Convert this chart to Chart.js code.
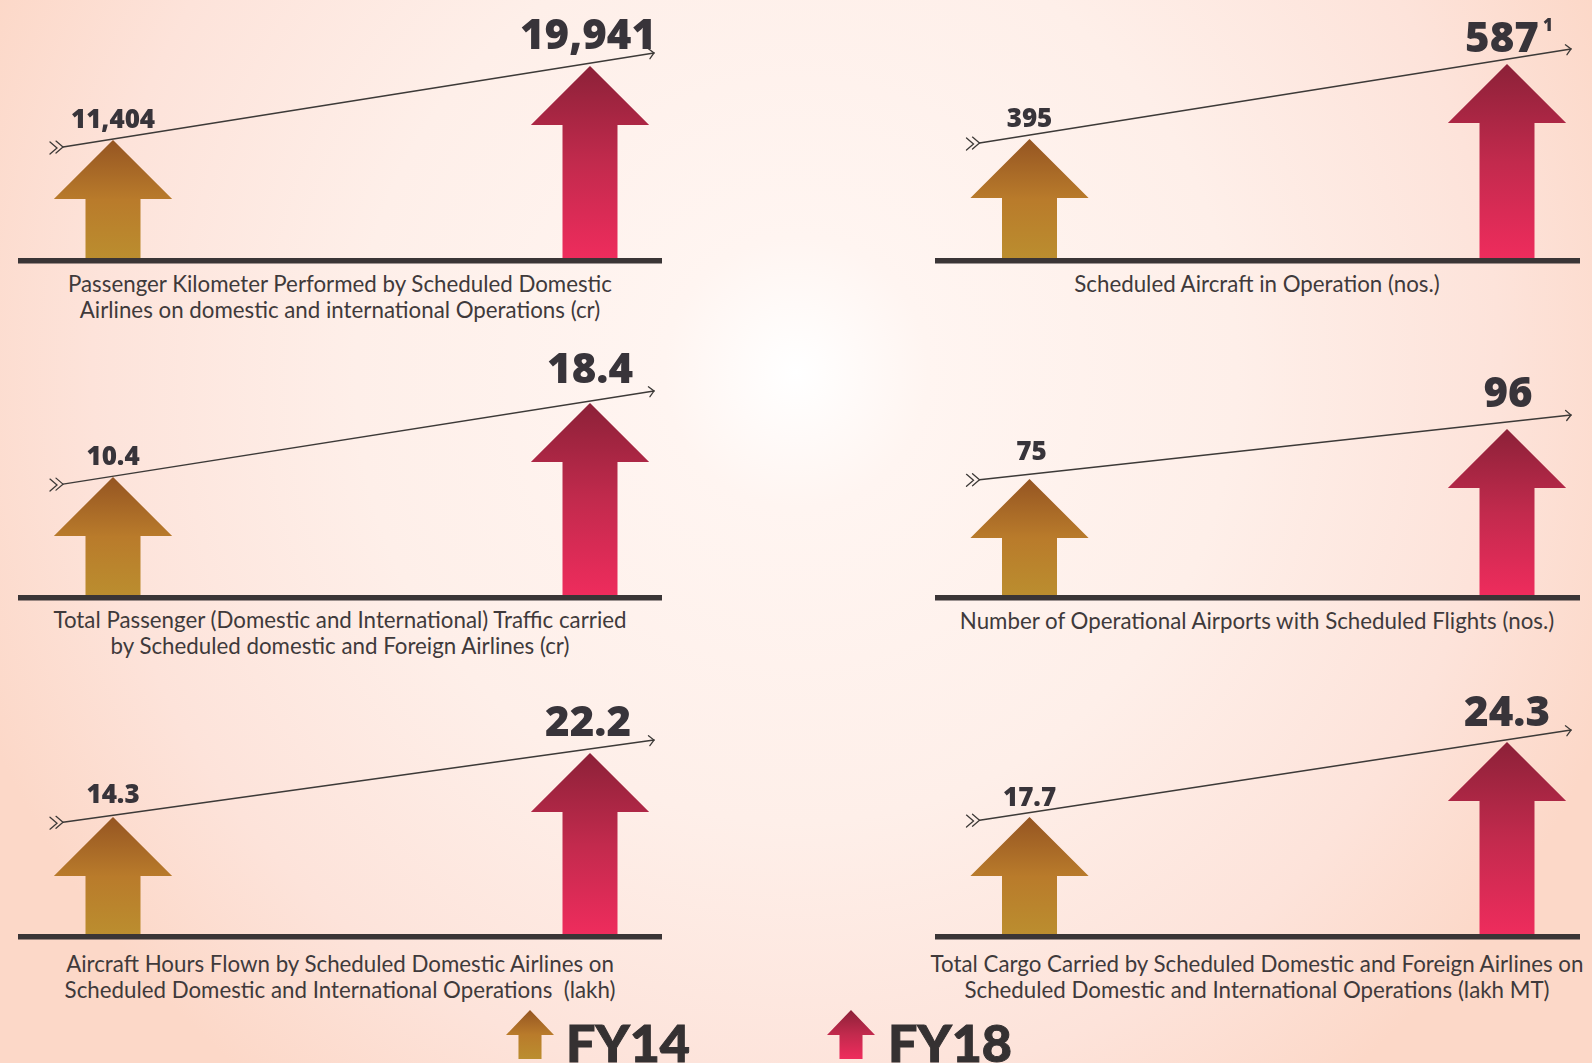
<!DOCTYPE html>
<html><head><meta charset="utf-8">
<script src="https://cdn.jsdelivr.net/npm/chart.js@4"></script>
<style>
html,body{margin:0;padding:0;width:1592px;height:1063px;overflow:hidden}
body{position:relative;background:radial-gradient(ellipse 880px 900px at 50% 35%,#ffffff 0%,#fff5f1 15%,#feefe9 50%,#fde3da 80%,#fcd8c8 100%);font-family:Lato,sans-serif;color:#3a3536}
canvas{position:absolute}
.cap{position:absolute;width:680px;text-align:center;font:400 22.3px/26.4px Lato,sans-serif;color:#3f3a3b;white-space:pre}
.lg{position:absolute;font:900 52px/52px Lato,sans-serif;color:#353132;-webkit-text-stroke:1px #353132}
.ar{position:absolute;width:48px;height:49px;clip-path:polygon(50% 0,100% 51%,74% 51%,74% 100%,26% 100%,26% 51%,0 51%)}
</style></head><body>
<script>
const categories = ["FY14", "FY18"];
const panelTitles = [
  ["Passenger Kilometer Performed by Scheduled Domestic", "Airlines on domestic and international Operations (cr)"],
  ["Scheduled Aircraft in Operation (nos.)"],
  ["Total Passenger (Domestic and International) Traffic carried", "by Scheduled domestic and Foreign Airlines (cr)"],
  ["Number of Operational Airports with Scheduled Flights (nos.)"],
  ["Aircraft Hours Flown by Scheduled Domestic Airlines on", "Scheduled Domestic and International Operations  (lakh)"],
  ["Total Cargo Carried by Scheduled Domestic and Foreign Airlines on", "Scheduled Domestic and International Operations (lakh MT)"]
];
const fy14Values = [11404, 395, 10.4, 75, 14.3, 17.7];
const fy18Values = [19941, 587, 18.4, 96, 22.2, 24.3];
const footnotes = ["", "1", "", "", "", ""];
const axisMin = [-2439, 85.2, -2.57, 25.44, -0.39, 7.23];
const axisMax = [20633, 597.2, 19.05, 109.44, 24.3, 24.83];

// layout, separate from the data
const panelLeft = [0, 920, 0, 920, 0, 920];
const baselineY = [260, 260, 597, 597, 936, 936];
const trendStartGap = [9, 6, 9, 2, 7, 5];
const trendEndGap = [13, 15, 12, 14, 13, 12];
const smallLabelGap = [19, 19, 19, 26, 21, 18];
const bigLabelGap = [29, 24, 32, 34, 29, 28];
const bigLabelShift = [-2, -5, 0, 1, -2, 0];
const smallLabelShift = [0, 0, 0, 2, 0, 0];
const captionY = [271, 271, 607, 608, 951, 951];
const INK = "#38343a";

const colorsFY14 = ["#955522", "#b97b2b", "#bb8e2f"];
const colorsFY18 = ["#8c2138", "#c22a4d", "#ef2c5d"];
const seriesColors = [colorsFY14, colorsFY18];

function arrowPlugin(i) {
  return {
    id: "arrows" + i,
    beforeDatasetDraw(chart, args) {
      const ctx = chart.ctx, meta = args.meta, area = chart.chartArea;
      meta.data.forEach((b, n) => {
        const stops = seriesColors[n];
        const w = b.width / 2, headW = w * 2.15, headH = 59, top = b.y, bot = area.bottom;
        const g = ctx.createLinearGradient(0, top, 0, bot);
        g.addColorStop(0, stops[0]); g.addColorStop(0.5, stops[1]); g.addColorStop(1, stops[2]);
        ctx.save(); ctx.fillStyle = g; ctx.beginPath();
        ctx.moveTo(b.x, top);
        ctx.lineTo(b.x + headW, top + headH); ctx.lineTo(b.x + w, top + headH);
        ctx.lineTo(b.x + w, bot); ctx.lineTo(b.x - w, bot); ctx.lineTo(b.x - w, top + headH);
        ctx.lineTo(b.x - headW, top + headH); ctx.closePath(); ctx.fill(); ctx.restore();
      });
      return false;
    },
    afterDraw(chart) {
      const ctx = chart.ctx, area = chart.chartArea;
      const p1 = chart.getDatasetMeta(0).data[0], p2 = chart.getDatasetMeta(0).data[1];
      ctx.save();
      ctx.fillStyle = "#3a3536";
      const bx0 = panelLeft[i] === 0 ? 18 : 15, bx1 = panelLeft[i] === 0 ? 662 : 660;
      ctx.fillRect(bx0, area.bottom - 2, bx1 - bx0, 5.5);
      // trend line
      const x0 = p1.x - 62, y0 = p1.y + trendStartGap[i], x1 = p2.x + 64, y1 = p2.y - trendEndGap[i];
      const a = Math.atan2(y1 - y0, x1 - x0), slope = (y1 - y0) / (x1 - x0);
      const lx0 = x0 + 12, ly0 = y0 + 12 * slope;
      ctx.strokeStyle = "#3d3a38"; ctx.lineWidth = 1.5; ctx.lineCap = "round";
      ctx.beginPath(); ctx.moveTo(lx0, ly0); ctx.lineTo(x1, y1); ctx.stroke();
      ctx.lineWidth = 1.3;
      ctx.beginPath();
      ctx.moveTo(x1 - 7 * Math.cos(a - .8), y1 - 7 * Math.sin(a - .8)); ctx.lineTo(x1, y1);
      ctx.lineTo(x1 - 7 * Math.cos(a + .8), y1 - 7 * Math.sin(a + .8));
      [0, 6].forEach(d => {
        const tx = lx0 - d, ty = ly0 - d * slope;
        ctx.moveTo(tx - 7, ty - 6); ctx.lineTo(tx, ty); ctx.lineTo(tx - 7, ty + 6);
      });
      ctx.stroke();
      // value labels
      ctx.fillStyle = INK; ctx.textAlign = "center"; ctx.textBaseline = "middle";
      const fmt = v => v.toLocaleString("en-US");
      ctx.font = "800 26px 'Open Sans', sans-serif";
      ctx.fillText(fmt(fy14Values[i]), p1.x + smallLabelShift[i], p1.y - smallLabelGap[i]);
      ctx.font = "800 42px 'Open Sans', sans-serif";
      const lx = p2.x + bigLabelShift[i], ly = p2.y - bigLabelGap[i];
      ctx.fillText(fmt(fy18Values[i]), lx, ly);
      if (footnotes[i]) {
        const tw = ctx.measureText(fmt(fy18Values[i])).width;
        ctx.font = "800 17px 'Open Sans', sans-serif";
        ctx.fillText(footnotes[i], lx + tw / 2 + 9, ly - 14);
      }
      ctx.restore();
    }
  };
}

panelTitles.forEach((lines, i) => {
  const c = document.createElement("canvas");
  c.width = 672; c.height = 266;
  c.style.left = panelLeft[i] + "px";
  c.style.top = (baselineY[i] - 260) + "px";
  document.body.appendChild(c);
  const left = panelLeft[i] === 0 ? 113 : 109.5;
  const right = panelLeft[i] === 0 ? 82 : 85;
  new Chart(c, {
    type: "bar",
    data: { labels: categories, datasets: [{
      data: [fy14Values[i], fy18Values[i]],
      base: axisMin[i], barThickness: 55, backgroundColor: ["#b97b2b", "#c22a4d"], clip: false
    }]},
    options: {
      responsive: false, animation: false,
      layout: { padding: { left, right, top: 60, bottom: 6 } },
      plugins: { legend: { display: false }, tooltip: { enabled: false } },
      scales: {
        x: { type: "category", offset: false, display: false },
        y: { display: false, min: axisMin[i], max: axisMax[i] }
      }
    },
    plugins: [arrowPlugin(i)]
  });
  const d = document.createElement("div");
  d.className = "cap";
  d.style.left = (panelLeft[i] === 0 ? 0 : 917) + "px";
  d.style.top = captionY[i] + "px";
  d.textContent = lines.join("\n");
  document.body.appendChild(d);
});

[["FY14", 506, 566, colorsFY14], ["FY18", 827, 888, colorsFY18]].forEach(([t, ax, tx, s]) => {
  const a = document.createElement("div");
  a.className = "ar"; a.style.left = ax + "px"; a.style.top = "1010px";
  a.style.background = `linear-gradient(${s[0]},${s[1]} 50%,${s[2]})`;
  document.body.appendChild(a);
  const l = document.createElement("div");
  l.className = "lg"; l.style.left = tx + "px"; l.style.top = "1016px"; l.textContent = t;
  document.body.appendChild(l);
});
</script>
</body></html>
